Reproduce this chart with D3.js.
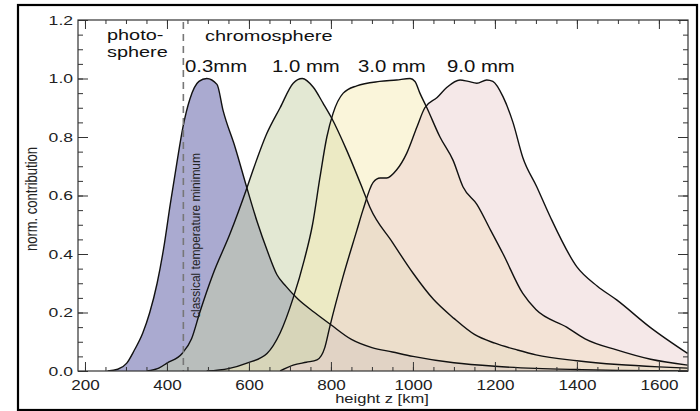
<!DOCTYPE html>
<html>
<head>
<meta charset="utf-8">
<script src="https://cdn.jsdelivr.net/npm/d3@7"></script>
<style>
  body { margin: 0; background: #fff; }
  svg { display: block; font-family: "Liberation Sans", Arial, sans-serif; }
</style>
</head>
<body>
<svg id="chart" width="700" height="411"></svg>
<script>
// THE DATA (height in km, normalised contribution)
const bandNames = ["0.3mm", "1.0 mm", "3.0 mm", "9.0 mm"];

const z03 = [255, 280, 302, 320, 341, 358, 376, 392, 408, 424, 439, 456, 478, 497, 522, 537, 566, 595, 620, 645, 668, 690, 720, 760, 800, 850, 900, 950, 1000, 1100, 1200, 1300, 1400, 1500, 1670];
const c03 = [0, 0.006, 0.027, 0.07, 0.13, 0.2, 0.3, 0.42, 0.57, 0.71, 0.834, 0.93, 0.99, 1.0, 0.98, 0.89, 0.766, 0.626, 0.51, 0.41, 0.33, 0.29, 0.245, 0.2, 0.158, 0.108, 0.08, 0.065, 0.05, 0.028, 0.016, 0.009, 0.005, 0.002, 0];

const z10 = [351, 380, 400, 437, 460, 480, 512, 554, 595, 610, 643, 676, 708, 730, 757, 781, 802, 838, 878, 895, 950, 1000, 1050, 1100, 1150, 1200, 1254, 1300, 1400, 1500, 1600, 1670];
const c10 = [0, 0.01, 0.027, 0.06, 0.11, 0.2, 0.33, 0.47, 0.626, 0.687, 0.81, 0.9, 0.984, 1.0, 0.97, 0.915, 0.864, 0.756, 0.62, 0.56, 0.44, 0.335, 0.245, 0.18, 0.125, 0.095, 0.072, 0.055, 0.035, 0.022, 0.014, 0.01];

const z30 = [497, 550, 595, 644, 676, 708, 735, 755, 773, 790, 805, 830, 863, 919, 960, 993, 1005, 1017, 1034, 1066, 1098, 1122, 1156, 1190, 1220, 1268, 1300, 1375, 1420, 1497, 1580, 1670];
const c30 = [0, 0.008, 0.027, 0.06, 0.13, 0.25, 0.38, 0.5, 0.66, 0.8, 0.88, 0.95, 0.975, 0.99, 0.995, 1.0, 0.99, 0.95, 0.9, 0.8, 0.72, 0.63, 0.57, 0.48, 0.4, 0.265, 0.21, 0.15, 0.11, 0.072, 0.04, 0.02];

const z90 = [676, 708, 740, 766, 785, 797, 829, 863, 878, 903, 920, 936, 960, 985, 1010, 1029, 1059, 1083, 1115, 1135, 1156, 1180, 1195, 1220, 1244, 1268, 1302, 1334, 1400, 1450, 1497, 1578, 1670];
const c90 = [0, 0.02, 0.03, 0.038, 0.08, 0.15, 0.32, 0.48, 0.55, 0.645, 0.66, 0.66, 0.687, 0.745, 0.835, 0.9, 0.935, 0.97, 0.995, 0.99, 0.984, 0.995, 0.99, 0.937, 0.85, 0.73, 0.63, 0.53, 0.356, 0.29, 0.243, 0.15, 0.06];

const bandFills = ["rgb(85,85,161)", "rgb(199,209,167)", "rgb(245,235,181)", "rgb(235,209,209)"];

const xMajor = [200, 400, 600, 800, 1000, 1200, 1400, 1600];
const yMajor = [0, 0.2, 0.4, 0.6, 0.8, 1.0, 1.2];
const tempMin = 440; // classical temperature minimum

// SETTING UP
const svg = d3.select("#chart");
const pLeft = 78, pRight = 688, pTop = 20, pBottom = 371;
const sx = 1.27; // the original picture is widened

const x = d3.scaleLinear().domain([183, 1671]).range([pLeft, pRight]);
const y = d3.scaleLinear().domain([0, 1.2]).range([pBottom, pTop]);

function stretch(sel, k) {
  sel.each(function() {
    const w = this.getComputedTextLength();
    d3.select(this).attr("textLength", w * k).attr("lengthAdjust", "spacingAndGlyphs");
  });
  return sel;
}

// outer frame
svg.append("rect")
  .attr("x", 18).attr("y", 5)
  .attr("width", 679).attr("height", 405)
  .attr("fill", "#fff")
  .attr("stroke", "#000")
  .attr("stroke-width", 2.2);

svg.append("clipPath").attr("id", "plotClip")
  .append("rect")
  .attr("x", pLeft).attr("y", pTop)
  .attr("width", pRight - pLeft).attr("height", pBottom - pTop);

// curves
const series = [[z03, c03], [z10, c10], [z30, c30], [z90, c90]]
  .map(([zs, cs]) => zs.map((z, i) => ({z: z, c: cs[i]})));

const area = d3.area()
  .x(d => x(d.z))
  .y0(y(0))
  .y1(d => y(d.c))
  .curve(d3.curveMonotoneX);

const line = d3.line()
  .x(d => x(d.z))
  .y(d => y(d.c))
  .curve(d3.curveMonotoneX);

const plot = svg.append("g").attr("clip-path", "url(#plotClip)");

plot.selectAll("path.area")
  .data(series)
  .join("path")
  .attr("class", "area")
  .attr("d", area)
  .attr("fill", (d, i) => bandFills[i])
  .attr("fill-opacity", 0.5);

plot.selectAll("path.line")
  .data(series)
  .join("path")
  .attr("class", "line")
  .attr("d", line)
  .attr("fill", "none")
  .attr("stroke", "#111")
  .attr("stroke-width", 1.4);

// dashed line at temperature minimum
svg.append("line")
  .attr("x1", x(tempMin)).attr("x2", x(tempMin))
  .attr("y1", pTop + 2).attr("y2", pBottom)
  .attr("stroke", "#777")
  .attr("stroke-width", 1.6)
  .attr("stroke-dasharray", "7,5");

// AXES
const axisCol = "#333";
function styleAxis(g) {
  g.select(".domain").remove();
  g.selectAll(".tick line").attr("stroke", axisCol);
  g.selectAll("text").attr("fill", "#222").style("font-family", "Liberation Sans, Arial, sans-serif");
}

const xMinor = d3.range(200, 1651, 50);
const yMinor = d3.range(0, 1.201, 0.05);

// minor ticks
svg.append("g").attr("transform", `translate(0,${pBottom})`)
  .call(d3.axisBottom(x).tickValues(xMinor).tickSize(-4).tickFormat(""))
  .call(styleAxis);
svg.append("g").attr("transform", `translate(0,${pTop})`)
  .call(d3.axisTop(x).tickValues(xMinor).tickSize(-4).tickFormat(""))
  .call(styleAxis);
svg.append("g").attr("transform", `translate(${pLeft},0)`)
  .call(d3.axisLeft(y).tickValues(yMinor).tickSize(-5).tickFormat(""))
  .call(styleAxis);
svg.append("g").attr("transform", `translate(${pRight},0)`)
  .call(d3.axisRight(y).tickValues(yMinor).tickSize(-5).tickFormat(""))
  .call(styleAxis);

// major ticks
const xAxis = svg.append("g").attr("transform", `translate(0,${pBottom})`)
  .call(d3.axisBottom(x).tickValues(xMajor).tickSize(-9).tickPadding(9).tickFormat(d3.format("d")))
  .call(styleAxis);
xAxis.selectAll("text").style("font-size", "14px");
stretch(xAxis.selectAll("text"), 1.22);

svg.append("g").attr("transform", `translate(0,${pTop})`)
  .call(d3.axisTop(x).tickValues(xMajor).tickSize(-9).tickFormat(""))
  .call(styleAxis);

const yAxis = svg.append("g").attr("transform", `translate(${pLeft},0)`)
  .call(d3.axisLeft(y).tickValues(yMajor).tickSize(-10).tickPadding(5).tickFormat(d3.format(".1f")))
  .call(styleAxis);
yAxis.selectAll("text").style("font-size", "13px");
stretch(yAxis.selectAll("text"), 1.35);

svg.append("g").attr("transform", `translate(${pRight},0)`)
  .call(d3.axisRight(y).tickValues(yMajor).tickSize(-10).tickFormat(""))
  .call(styleAxis);

// plot frame
svg.append("rect")
  .attr("x", pLeft).attr("y", pTop)
  .attr("width", pRight - pLeft).attr("height", pBottom - pTop)
  .attr("fill", "none")
  .attr("stroke", axisCol)
  .attr("stroke-width", 1.2);

// AXIS TITLES
stretch(svg.append("text")
  .attr("x", 382).attr("y", 403)
  .attr("text-anchor", "middle")
  .style("font-size", "13px")
  .attr("fill", "#222")
  .text("height z [km]"), sx);

svg.append("text")
  .attr("transform", `translate(37,199) scale(${sx},1) rotate(-90)`)
  .attr("text-anchor", "middle")
  .style("font-size", "13px")
  .attr("fill", "#222")
  .text("norm. contribution");

// LABELS
const big = [
  {t: "photo-", x: 107, y: 40},
  {t: "sphere", x: 107, y: 57}
];
big.forEach(l => {
  stretch(svg.append("text")
    .attr("x", l.x).attr("y", l.y)
    .style("font-size", "14px")
    .attr("fill", "#111")
    .text(l.t), 1.42);
});

stretch(svg.append("text")
  .attr("x", 205).attr("y", 41)
  .style("font-size", "15px")
  .attr("fill", "#111")
  .text("chromosphere"), 1.33);

const bandLabelX = [185, 272, 358, 447];
bandNames.forEach((n, i) => {
  stretch(svg.append("text")
    .attr("x", bandLabelX[i]).attr("y", 72)
    .style("font-size", "16px")
    .attr("fill", "#111")
    .text(n), 1.27);
});

svg.append("text")
  .attr("transform", `translate(${x(tempMin) + 17},318) scale(${sx},1) rotate(-90)`)
  .style("font-size", "10.5px")
  .attr("fill", "#222")
  .attr("textLength", 165)
  .attr("lengthAdjust", "spacingAndGlyphs")
  .text("classical temperature minimum");
</script>
</body>
</html>
